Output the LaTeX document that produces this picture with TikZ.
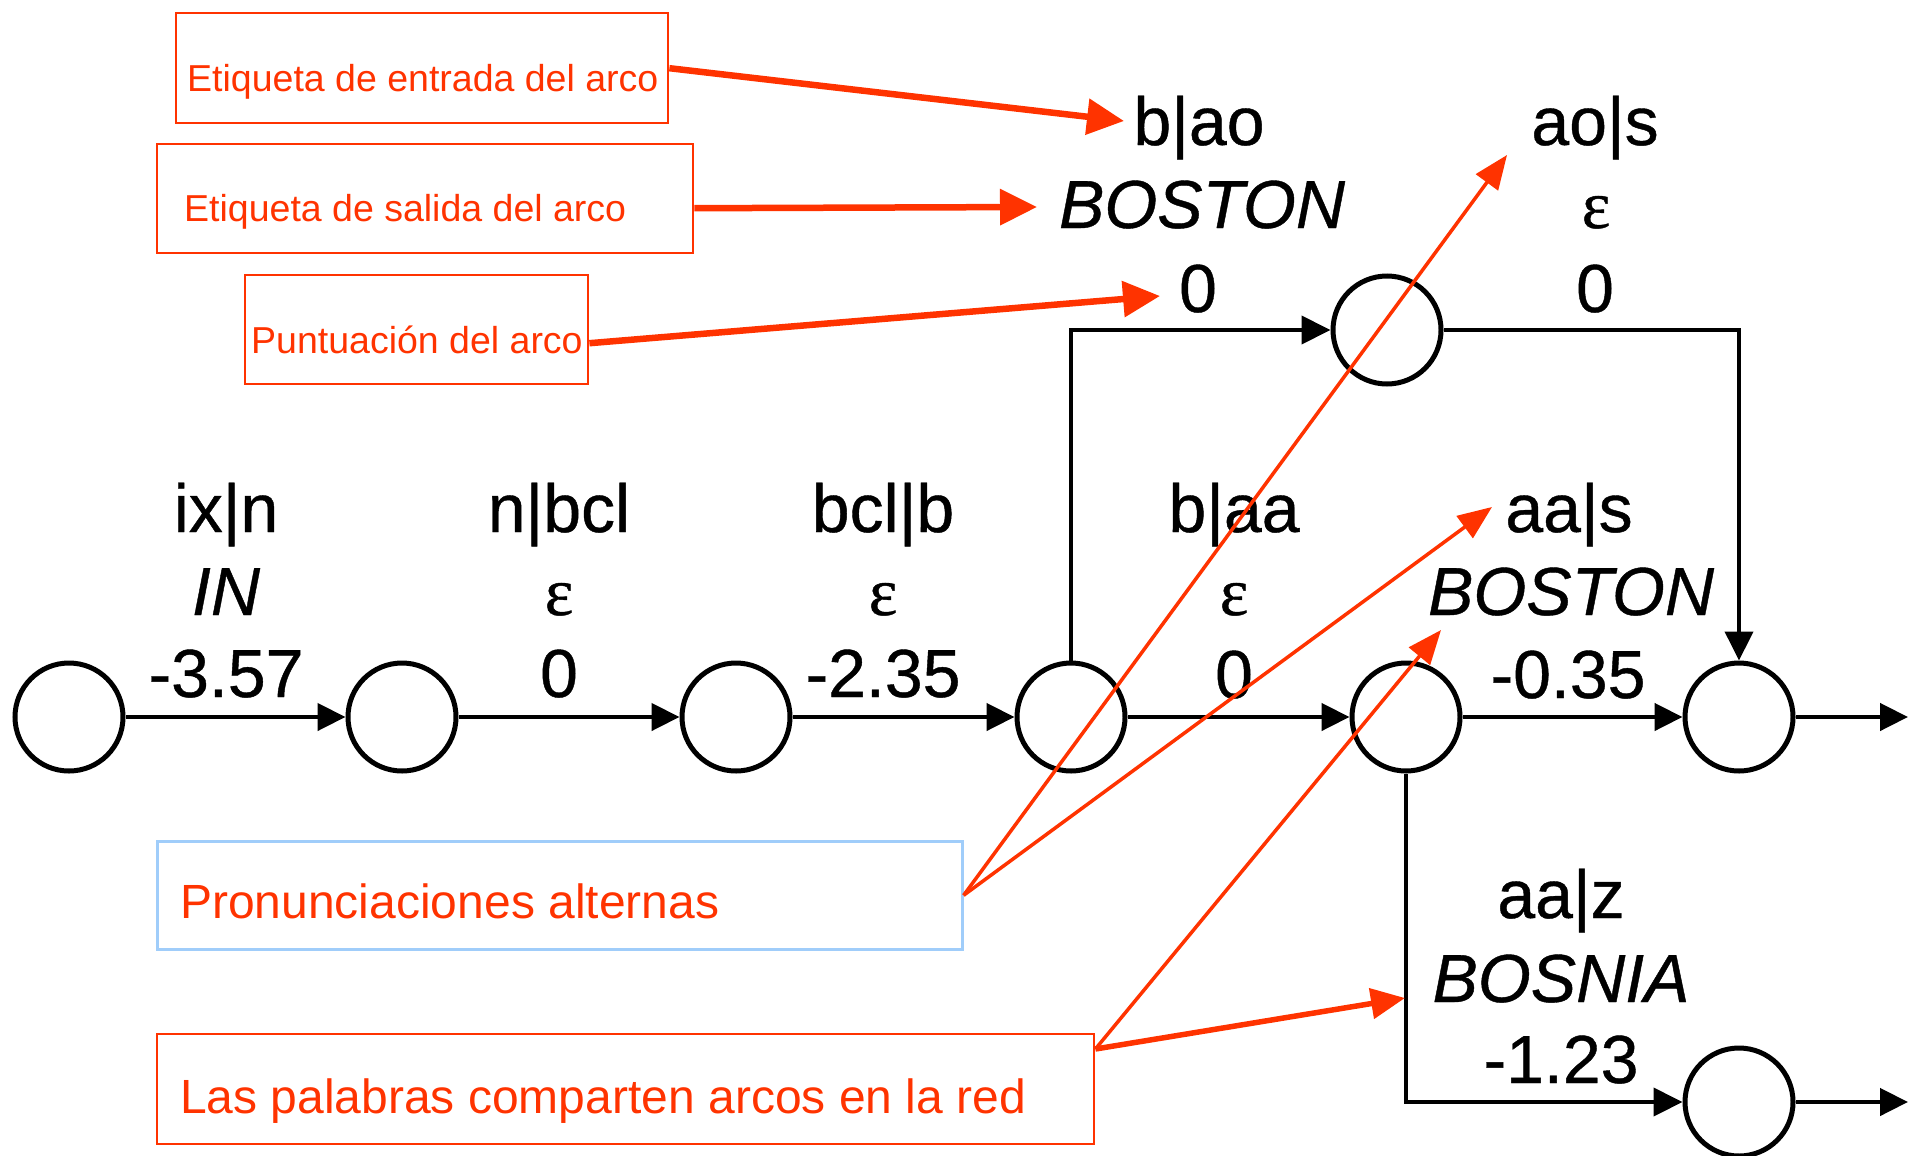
\documentclass[tikz,border=0pt]{standalone}
\usepackage{fontspec}
\setmainfont{Liberation Sans}
\newfontfamily\labfont[FakeBold=0.6]{Liberation Sans}
\newfontfamily\epsfont[FakeBold=0.6]{Liberation Serif}
\usetikzlibrary{arrows.meta}
\definecolor{annot}{RGB}{255,51,0}
\definecolor{annotblue}{RGB}{160,205,250}

\tikzset{
  state/.style={circle, draw=black, line width=5pt, minimum size=108pt, inner sep=0pt},
  arc/.style={line width=4.5pt, -{Triangle[length=28pt,width=27pt]}},
  branch/.style={line width=4pt, -{Triangle[length=29pt,width=28pt]}},
  lab/.style={font=\fontsize{68}{68}\selectfont\labfont, inner sep=0pt, anchor=base},
  ilab/.style={lab, font=\fontsize{68}{68}\selectfont\labfont\itshape},
  elab/.style={lab, font=\fontsize{68}{68}\selectfont\epsfont},
  rbox/.style={draw=annot, line width=2.4pt, inner sep=0pt, anchor=north west},
  bbox/.style={draw=annotblue, line width=2.6pt, inner sep=0pt, anchor=north west},
  rtext/.style={text=annot, font=\fontsize{37.5}{37.5}\selectfont, inner sep=0pt, anchor=base west},
  rtextbig/.style={text=annot, font=\fontsize{48}{48}\selectfont, inner sep=0pt, anchor=base west},
  bigpointer/.style={draw=annot, line width=6.5pt, -{Triangle[length=37pt,width=35pt]}},
  thinpointer/.style={draw=annot, line width=3.5pt, -{Triangle[length=34pt,width=27pt]}},
  midpointer/.style={draw=annot, line width=5.5pt, -{Triangle[length=34pt,width=30pt]}},
}

\begin{document}
\begin{tikzpicture}[x=1pt,y=-1pt]
\useasboundingbox (0,0) rectangle (1908,1156);

% --- states of the network ---
\node[state] (q0) at (69,717) {};
\node[state] (q1) at (402,717) {};
\node[state] (q2) at (736,717) {};
\node[state] (q3) at (1071,717) {};
\node[state] (q4) at (1406,717) {};
\node[state] (q5) at (1739,717) {};
\node[state] (qt) at (1387,330) {};
\node[state] (qb) at (1739,1102) {};
\coordinate (out1) at (1908,717);
\coordinate (out2) at (1908,1102);

% --- arcs ---
\draw[arc] (q0) -- (q1);
\draw[arc] (q1) -- (q2);
\draw[arc] (q2) -- (q3);
\draw[arc] (q3) -- (q4);
\draw[arc] (q4) -- (q5);
\draw[arc] (q5) -- (out1);
\draw[branch] (q3.north) |- (qt);
\draw[branch] (qt) -| (q5);
\draw[branch] (q4.south) |- (qb);
\draw[arc] (qb) -- (out2);

% --- arc labels: input|output phone, word, score ---
\node[lab]  (a1i) at (226,532) {ix|n};
\node[ilab] (a1o) at (226,615) {IN};
\node[lab]  (a1s) at (226,697) {-3.57};

\node[lab]  (a2i) at (559,532) {n|bcl};
\node[elab] (a2o) at (559,615) {ε};
\node[lab]  (a2s) at (559,697) {0};

\node[lab]  (a3i) at (883,532) {bcl|b};
\node[elab] (a3o) at (883,615) {ε};
\node[lab]  (a3s) at (883,697) {-2.35};

\node[lab]  (a4i) at (1234,532) {b|aa};
\node[elab] (a4o) at (1234,615) {ε};
\node[lab]  (a4s) at (1234,698) {0};

\node[lab]  (a5i) at (1569,532) {aa|s};
\node[ilab] (a5o) at (1571,615) {BOSTON};
\node[lab]  (a5s) at (1568,698) {-0.35};

\node[lab]  (a6i) at (1199,145) {b|ao};
\node[ilab] (a6o) at (1202,228) {BOSTON};
\node[lab]  (a6s) at (1198,312) {0};

\node[lab]  (a7i) at (1595,145) {ao|s};
\node[elab] (a7o) at (1596,228) {ε};
\node[lab]  (a7s) at (1595,312) {0};

\node[lab]  (a8i) at (1561,918) {aa|z};
\node[ilab] (a8o) at (1561,1002) {BOSNIA};
\node[lab]  (a8s) at (1561,1083) {-1.23};

% --- annotation boxes ---
\node[rbox, minimum width=492pt, minimum height=110pt] (bIn) at (175,12) {};
\node[rtext] (tIn) at (187,91) {Etiqueta de entrada del arco};
\node[rbox, minimum width=536pt, minimum height=109pt] (bOut) at (156,143) {};
\node[rtext] (tOut) at (184,221) {Etiqueta de salida del arco};
\node[rbox, minimum width=343pt, minimum height=109pt] (bSc) at (244,274) {};
\node[rtext] (tSc) at (251,353) {Puntuación del arco};
\node[bbox, minimum width=805pt, minimum height=108pt] (bAlt) at (156,840) {};
\node[rtextbig] (tAlt) at (180,918) {Pronunciaciones alternas};
\node[rbox, minimum width=937pt, minimum height=110pt] (bSh) at (156,1033) {};
\node[rtextbig] (tSh) at (180,1113) {Las palabras comparten arcos en la red};

% --- annotation pointers ---
\coordinate (pIn)  at (1124,121);
\coordinate (pOut) at (1037,207);
\coordinate (pSc)  at (1160,296);
\coordinate (pAlt1) at (1507,155);
\coordinate (pAlt2) at (1492,507);
\coordinate (pSh1) at (1441,630);
\coordinate (pSh2) at (1405,998);
\coordinate (sSh) at ([yshift=-16pt]bSh.north east);

\draw[bigpointer] (bIn.east) -- (pIn);
\draw[bigpointer] ([yshift=-9.5pt]bOut.east) -- (pOut);
\draw[bigpointer] ([yshift=-13.5pt]bSc.east) -- (pSc);
\draw[thinpointer] (bAlt.east) -- (pAlt1);
\draw[thinpointer] (bAlt.east) -- (pAlt2);
\draw[thinpointer] (sSh) -- (pSh1);
\draw[midpointer] (sSh) -- (pSh2);
\end{tikzpicture}
\end{document}
